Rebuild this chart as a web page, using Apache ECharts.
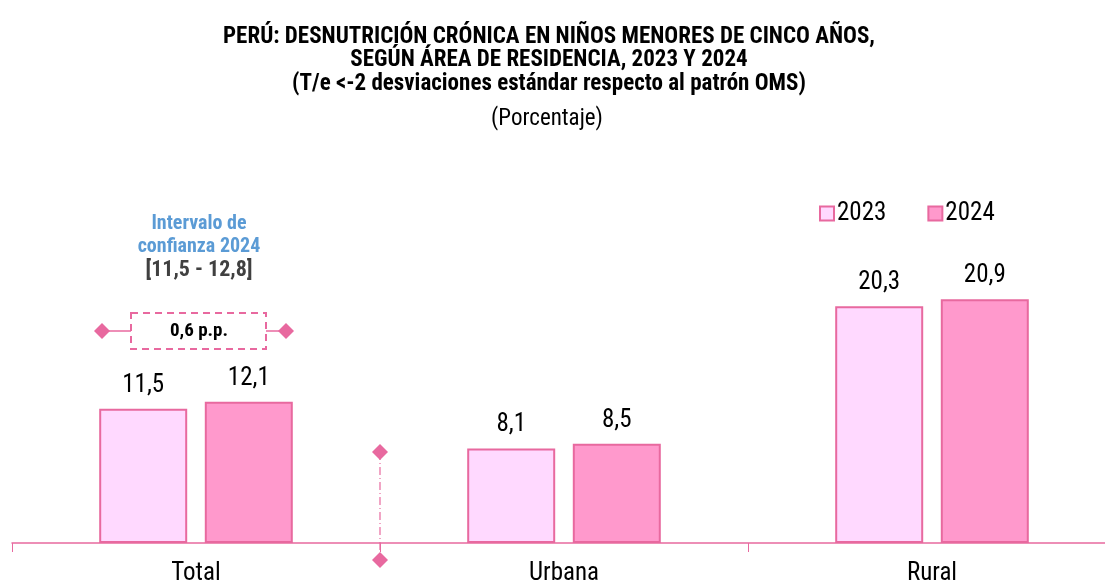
<!DOCTYPE html>
<html>
<head>
<meta charset="utf-8">
<script src="https://cdn.jsdelivr.net/npm/echarts@6/dist/echarts.min.js"></script>
<style>
  html, body { margin: 0; padding: 0; background: #fff; overflow: hidden; }
  /* a bit wider than the window: the axis runs off the right edge */
  #chart { width: 1116px; height: 586px; }
</style>
</head>
<body>
<div id="chart"></div>
<script>
const FONT = '"Roboto Condensed", "Liberation Sans", Arial, sans-serif';

const categories = ['Total', 'Urbana', 'Rural'];
const values2023 = [11.5, 8.1, 20.3];
const values2024 = [12.1, 8.5, 20.9];
const seriesNames = ['2023', '2024'];

const titleLines = [
  'PERÚ: DESNUTRICIÓN CRÓNICA EN NIÑOS MENORES DE CINCO AÑOS,',
  'SEGÚN ÁREA DE RESIDENCIA, 2023 Y 2024',
  '(T/e <-2 desviaciones estándar respecto al patrón OMS)'
];
const subtitle = '(Porcentaje)';

const ciTitle = 'Intervalo de\nconfianza 2024';
const ciRange = '[11,5 - 12,8]';
const ciDiff = '0,6 p.p.';

const pinkLine = '#E8699F';
const fill2023 = '#FFD9FF';
const fill2024 = '#FF99CC';

const fmt = p => p.value.toFixed(1).replace('.', ',');

let myChart = echarts.init(document.getElementById('chart'));

myChart.setOption({
  animation: false,
  textStyle: { fontFamily: FONT },
  title: [
    {
      text: titleLines.join('\n'),
      left: 544,
      textAlign: 'center',
      top: 20,
      textStyle: { fontFamily: FONT, fontSize: 23, fontWeight: 'bold', color: '#000', lineHeight: 23.5 }
    },
    {
      text: subtitle,
      left: 542,
      textAlign: 'center',
      top: 103,
      textStyle: { fontFamily: FONT, fontSize: 23, fontWeight: 'normal', color: '#000' }
    }
  ],
  legend: {
    data: seriesNames,
    left: 814,
    top: 196,
    itemWidth: 14,
    itemHeight: 14,
    itemGap: 41,
    icon: 'rect',
    itemStyle: { borderWidth: 2 },
    textStyle: { fontFamily: FONT, fontSize: 25, color: '#000', padding: [0, 0, 0, -2] }
  },
  grid: { left: 12, right: 0, top: 193, height: 351, containLabel: false },
  xAxis: {
    type: 'category',
    data: categories,
    axisLine: { lineStyle: { color: pinkLine, width: 1.5 } },
    axisTick: { show: true, length: 9, lineStyle: { color: pinkLine } },
    axisLabel: { fontFamily: FONT, fontSize: 25, color: '#000', margin: 18 }
  },
  yAxis: {
    type: 'value',
    min: 0,
    max: 30,
    show: false,
    splitLine: { show: false }
  },
  series: [
    {
      name: seriesNames[0],
      type: 'bar',
      data: values2023,
      barWidth: 88,
      barGap: '20%',
      itemStyle: { color: fill2023, borderColor: pinkLine, borderWidth: 2 },
      label: { show: true, position: 'top', distance: 11, formatter: fmt, fontFamily: FONT, fontSize: 25, color: '#000' }
    },
    {
      name: seriesNames[1],
      type: 'bar',
      data: values2024,
      barWidth: 88,
      itemStyle: { color: fill2024, borderColor: pinkLine, borderWidth: 2 },
      label: { show: true, position: 'top', distance: 11, formatter: fmt, fontFamily: FONT, fontSize: 25, color: '#000' }
    }
  ],
  graphic: [
    // confidence interval note
    {
      type: 'text',
      style: { text: ciTitle, x: 199, y: 212, align: 'center', fill: '#5B9BD5', font: 'bold 20px ' + FONT, lineHeight: 23 }
    },
    {
      type: 'text',
      style: { text: ciRange, x: 199, y: 259, align: 'center', fill: '#404040', font: 'bold 22px ' + FONT }
    },
    {
      type: 'rect',
      shape: { x: 131, y: 313, width: 135, height: 36 },
      style: { fill: 'none', stroke: pinkLine, lineWidth: 2, lineDash: [7, 5] }
    },
    {
      type: 'text',
      style: { text: ciDiff, x: 199, y: 331, align: 'center', verticalAlign: 'middle', fill: '#000', font: 'bold 19px ' + FONT }
    },
    { type: 'line', shape: { x1: 104, y1: 331, x2: 131, y2: 331 }, style: { stroke: pinkLine, lineWidth: 1.5 } },
    { type: 'line', shape: { x1: 266, y1: 331, x2: 284, y2: 331 }, style: { stroke: pinkLine, lineWidth: 1.5 } },
    { type: 'polygon', shape: { points: [[94, 331], [102, 323], [110, 331], [102, 339]] }, style: { fill: pinkLine } },
    { type: 'polygon', shape: { points: [[278, 331], [286, 323], [294, 331], [286, 339]] }, style: { fill: pinkLine } },
    // separator between Total and Urbana
    { type: 'line', shape: { x1: 380, y1: 452, x2: 380, y2: 560 }, style: { stroke: pinkLine, lineWidth: 1.2, lineDash: [8, 3, 1, 3] } },
    { type: 'polygon', shape: { points: [[372, 452], [380, 444], [388, 452], [380, 460]] }, style: { fill: pinkLine } },
    { type: 'polygon', shape: { points: [[372, 560], [380, 552], [388, 560], [380, 568]] }, style: { fill: pinkLine } }
  ]
});
</script>
</body>
</html>
